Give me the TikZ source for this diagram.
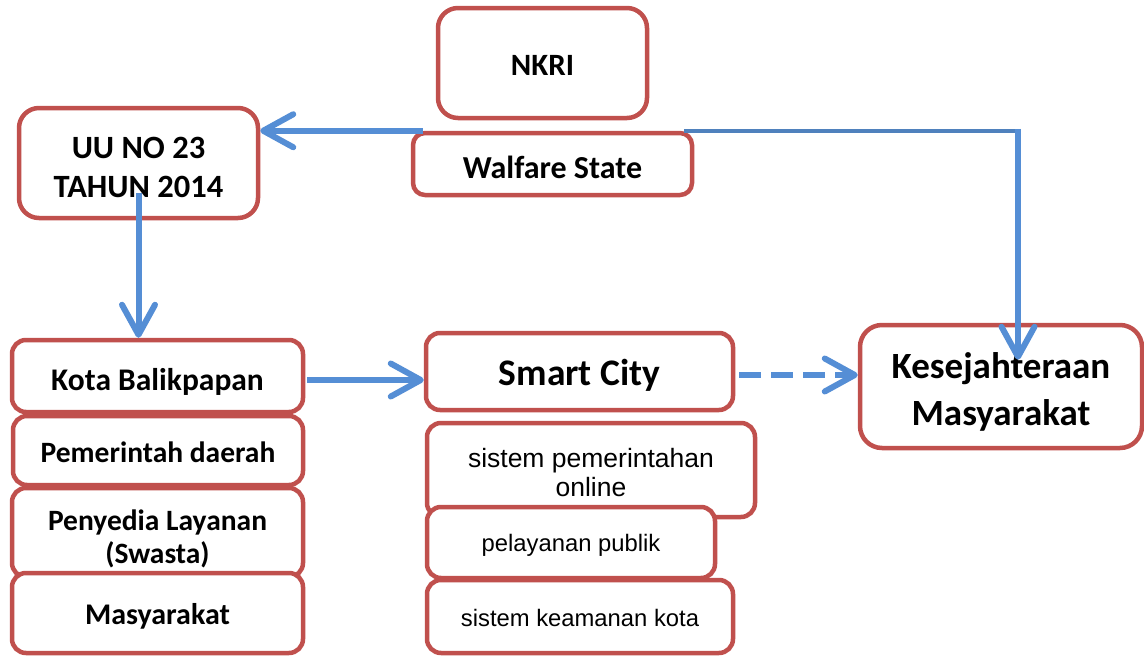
\documentclass[tikz,border=0pt]{standalone}
\usepackage{fontspec}
\setmainfont{Carlito}
\newfontfamily\arialfont{Liberation Sans}
\usetikzlibrary{arrows.meta}
\definecolor{boxred}{HTML}{C0504D}
\definecolor{arrblue}{HTML}{558ED5}
\definecolor{lineblue}{HTML}{4F81BD}
\newcommand{\boxtext}[2]{\raisebox{-#1}[\height][\depth]{\begin{tabular}{@{}c@{}}#2\end{tabular}}}
\tikzset{
  box/.style={draw=boxred, line width=4.5pt, fill=white, rounded corners=14pt, inner sep=0pt, font=\bfseries\fontsize{31}{37}\selectfont},
  plainbox/.style={box, font=\arialfont\fontsize{23.8}{28}\selectfont},
  arr/.style={draw=arrblue, line width=6pt, -{Straight Barb[length=30pt,width=33pt,round]}},
  dasharr/.style={arr, dash pattern=on 22pt off 10pt},
  topline/.style={draw=lineblue, line width=4.5pt},
}
\begin{document}
\begin{tikzpicture}[x=1pt,y=-1pt]
\useasboundingbox (0,0) rectangle (1144,656);

\node[box, rounded corners=20pt, minimum width=209pt, minimum height=110pt] (nkri) at (542.5,63) {\boxtext{4.6pt}{NKRI}};
\node[box, rounded corners=12pt, minimum width=279pt, minimum height=62pt, font=\bfseries\fontsize{32}{38}\selectfont] (ws) at (552.5,164) {\boxtext{6.4pt}{Walfare State}};
\node[box, rounded corners=20pt, minimum width=239pt, minimum height=110pt, font=\bfseries\fontsize{32.5}{39}\selectfont] (uu) at (138.5,163) {\boxtext{6.7pt}{UU NO 23\\TAHUN 2014}};

\node[box, minimum width=291pt, minimum height=72pt, font=\bfseries\fontsize{31.5}{37}\selectfont] (kota) at (157.5,376) {\boxtext{6.6pt}{Kota Balikpapan}};
\node[box, minimum width=290pt, minimum height=69pt, font=\bfseries\fontsize{29.5}{35}\selectfont] (pemda) at (158,450.5) {\boxtext{4.5pt}{Pemerintah daerah}};
\node[box, minimum width=291pt, minimum height=89pt, font=\bfseries\fontsize{29.5}{33}\selectfont] (swasta) at (157.5,532.5) {\boxtext{7.4pt}{Penyedia Layanan\\(Swasta)}};
\node[box, minimum width=291pt, minimum height=80pt, font=\bfseries\fontsize{30}{35}\selectfont] (masy) at (157.5,613) {\boxtext{4pt}{Masyarakat}};

\node[box, minimum width=307pt, minimum height=77pt, font=\bfseries\fontsize{37.5}{45}\selectfont] (smart) at (579.5,371.5) {\boxtext{4.5pt}{Smart City}};
\node[plainbox, minimum width=328pt, minimum height=94pt, font=\arialfont\fontsize{26.5}{29}\selectfont] (online) at (591,470) {\boxtext{5.7pt}{sistem pemerintahan\\online}};
\node[plainbox, minimum width=288pt, minimum height=71pt] (publik) at (571,542.5) {\boxtext{3.6pt}{pelayanan publik}};
\node[plainbox, minimum width=306pt, minimum height=73pt] (aman) at (580,616.5) {\boxtext{4pt}{sistem keamanan kota}};

\node[box, rounded corners=22pt, minimum width=282pt, minimum height=123pt, font=\bfseries\fontsize{37}{47}\selectfont] (kes) at (1001,386.5) {\boxtext{5.6pt}{Kesejahteraan\\Masyarakat}};

% connectors
\coordinate (wsl) at ([xshift=12pt]ws.north west);
\coordinate (wsr) at ([xshift=-10pt]ws.north east);
\draw[arr] (wsl) -- (wsl -| uu.east);

\coordinate (kx) at ([xshift=17pt]kes.north);
\coordinate (corner) at (kx |- ws.north);
\draw[topline] (wsr) -- ([xshift=2pt]corner);
\draw[arr] ([yshift=2pt]corner) -- ([yshift=-37pt]kx);

\coordinate (uus) at ([yshift=-30pt]uu.center);
\draw[arr] (uus) -- (uus |- kota.north);

\coordinate (ks) at ([xshift=2pt,yshift=-4pt]kota.east);
\draw[arr] (ks) -- (ks -| smart.west);

\coordinate (sm) at ([xshift=4pt,yshift=-3.5pt]smart.east);
\draw[dasharr] (sm) -- (sm -| kes.west);
\end{tikzpicture}
\end{document}
